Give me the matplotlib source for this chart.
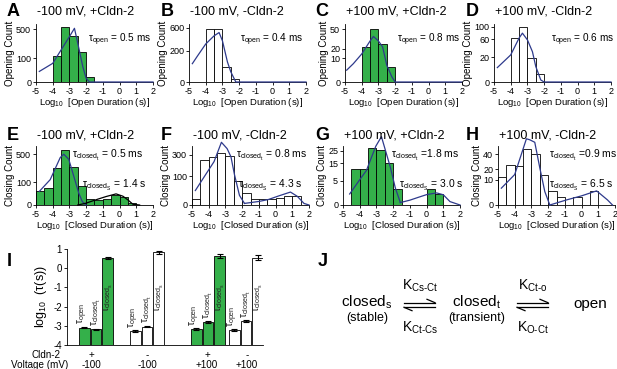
import matplotlib

matplotlib.use("Agg")
import matplotlib.pyplot as plt
import numpy as np

plt.rcParams["font.family"] = ["Liberation Sans", "DejaVu Sans"]
plt.rcParams["mathtext.fontset"] = "custom"
plt.rcParams["mathtext.rm"] = "Liberation Sans"
plt.rcParams["mathtext.it"] = "Liberation Sans:italic"
plt.rcParams["mathtext.bf"] = "Liberation Sans:bold"
plt.rcParams["axes.unicode_minus"] = False

W, H = 617, 369
GREEN = "#34b04a"
NAVY = "#2e3a8c"

# ------------------------------------------------------------------ data

# dwell-time histograms: bin starts (log10 s), 0.5 wide bins, counts
A_start, A_counts = -4.0, [120, 530, 370, 165, 5]
B_start, B_counts = -4.0, [575, 560, 46, 1.5]
C_start, C_counts = -4.0, [22, 51, 26, 4]
D_start, D_counts = -4.0, [63, 99, 18.5, 2.1]
E_start, E_counts = -5.0, [36, 56, 270, 580, 280, 70, 8, 5, 7, 20, 12, 1]
F_start, F_counts = -5.0, [5, 242, 278, 328, 289, 66, 16, 5, 5, 5, 6, 9, 9]
G_start, G_counts = -4.5, [11, 11, 28, 26, 15.4, 2.1, 0, 0, 0, 2.1, 1.1]
H_start, H_counts = -5.0, [12.3, 24.4, 24, 48.5, 41, 14.4, 3.1, 1.1, 0, 1.1, 0, 3.1]

# fitted curves
A_fit_x = [-4.8, -4.5, -4, -3.5, -3, -2.7, -2.5, -2.2, -2, -1.8, 2]
A_fit_y = [20, 33, 62, 183, 367, 514, 267, 42, 2.4, 0, 0]
B_fit_x = [-4.8, -4.5, -4, -3.5, -3.2, -3, -2.7, -2.5, -2.2, 2]
B_fit_y = [68, 135, 292, 431, 494, 344, 81, 21, 0, 0]
C_fit_x = [-4.9, -4.5, -4, -3.5, -3.3, -3, -2.75, -2.5, -2.2, -2, 2]
C_fit_y = [2.5, 6, 14, 30, 37, 30, 22, 5, 0.5, 0, 0]
D_fit_x = [-4.8, -4.5, -4, -3.5, -3.3, -3, -2.7, -2.5, -2.2, -2, 2]
D_fit_y = [6.8, 12, 24, 63, 78, 58, 30, 7.8, 0.13, 0, 0]

E_fast_x = [-4.8, -4.15, -3.55, -3.34, -3.04, -2.74, -2.44, -2.23, -2.0]
E_fast_y = [36, 125, 437, 501, 406, 161, 27, 2.2, 0]
E_slow_x = [-2.5, -2.03, -1.32, -0.8, -0.21, 0.2, 0.5, 0.8, 1.2]
E_slow_y = [0, 0.56, 6.4, 14, 24, 15, 5, 0.1, 0]
F_fast_x = [-4.8, -4.3, -3.68, -3.24, -2.9, -2.67, -2.46, -2.16, -1.86]
F_fast_y = [25, 90, 225, 470, 380, 278, 111, 11, 0.3]
F_slow_x = [-1.86, -1.0, -0.43, 0.2, 0.89, 1.3, 1.7, 2.0]
F_slow_y = [0.3, 1.5, 3.6, 10, 20, 9, 0.3, 0]
G_fast_x = [-4.6, -4.1, -3.6, -3.04, -2.7, -2.17, -1.87, -1.57]
G_fast_y = [1.04, 4.5, 10.2, 29.5, 40, 12.3, 2.5, 0.05]
G_slow_x = [-1.57, -1, -0.5, 0, 0.6, 1.0, 1.4, 2.0]
G_slow_y = [0.05, 0.2, 0.5, 0.92, 1.25, 0.9, 0.1, 0]
H_fast_x = [-4.8, -4, -3.3, -3.1, -2.8, -2.5, -2.2, -1.9]
H_fast_y = [4.4, 14.4, 68, 66, 61, 21.5, 2.8, 0]
H_slow_x = [-1.9, -0.9, 0, 0.9, 1.55, 1.85]
H_slow_y = [0, 0.4, 1.3, 3.1, 0.4, 0]

titles = ["-100 mV, +Cldn-2", "-100 mV, -Cldn-2", "+100 mV, +Cldn-2", "+100 mV, -Cldn-2"]
tau_open = ["0.5 ms", "0.4 ms", "0.8 ms", "0.6 ms"]
tau_closed_t = ["= 0.5 ms", "= 0.8 ms", "=1.8 ms", "=0.9 ms"]
tau_closed_s = ["= 1.4 s", "= 4.3 s", "= 3.0 s", "= 6.5 s"]

# panel I: log10 time constants (s) and SEM
groups_cldn = ["+", "-", "+", "-"]
groups_volt = ["-100", "-100", "+100", "+100"]
log_tau_open = [-3.1, -3.27, -3.18, -3.22]
log_tau_closed_t = [-3.18, -3.04, -2.8, -2.75]
log_tau_closed_s = [0.53, 0.82, 0.63, 0.55]
err_open = [0.03, 0.03, 0.04, 0.03]
err_closed_t = [0.03, 0.04, 0.05, 0.04]
err_closed_s = [0.04, 0.08, 0.1, 0.12]

# ------------------------------------------------------------------ helpers

fig = plt.figure(figsize=(W / 100, H / 100), dpi=100)


def px_axes(x0, y0, x1, y1):
    return fig.add_axes([x0 / W, 1 - y1 / H, (x1 - x0) / W, (y1 - y0) / H])


def sq(v):
    return np.sqrt(np.clip(v, 0, None))


def style(ax):
    for s in ("top", "right"):
        ax.spines[s].set_visible(False)
    for s in ("left", "bottom"):
        ax.spines[s].set_linewidth(0.6)
    ax.tick_params(length=2.5, width=0.6, labelsize=6.5, pad=1)


def hist_panel(ax, start, counts, filled, curves, ytop, yticks, kind):
    edges = start + 0.5 * np.arange(len(counts))
    keep = [i for i, c in enumerate(counts) if c > 0]
    ax.bar(edges[keep], np.array(counts)[keep], width=0.5, align="edge",
           color=GREEN if filled else "white", edgecolor="black", linewidth=0.6, zorder=2)
    for cx, cy, col in curves:
        ax.plot(cx, cy, color=col, lw=0.9, zorder=3, clip_on=False)
    ax.set_yscale("function", functions=(sq, np.square))
    ax.set_xlim(-5, 2)
    ax.set_ylim(0, ytop)
    ax.set_xticks(range(-5, 3))
    ax.set_yticks(yticks)
    ax.set_yticklabels([str(t) for t in yticks])
    style(ax)
    ax.set_xlabel(r"Log$_{10}$  [" + kind + " Duration (s)]", fontsize=6.8, labelpad=0)
    ax.set_ylabel("Opening Count" if kind == "Open" else "Closing Count", fontsize=7, labelpad=1)


# ------------------------------------------------------------------ panels A-H

row1_x = [36, 189, 345, 494]
row2_x = [36, 192, 343, 498]
top_data = [
    (A_start, A_counts, True, [(A_fit_x, A_fit_y, NAVY)], 600, [0, 100, 500]),
    (B_start, B_counts, False, [(B_fit_x, B_fit_y, NAVY)], 680, [0, 200, 600]),
    (C_start, C_counts, True, [(C_fit_x, C_fit_y, NAVY)], 60, [0, 10, 20, 50]),
    (D_start, D_counts, False, [(D_fit_x, D_fit_y, NAVY)], 110, [0, 20, 60, 100]),
]
bot_data = [
    (E_start, E_counts, True, [(E_fast_x, E_fast_y, NAVY), (E_slow_x, E_slow_y, "black")], 676, [0, 100, 500]),
    (F_start, F_counts, False, [(F_fast_x, F_fast_y, NAVY), (F_slow_x, F_slow_y, NAVY)], 416, [0, 100, 300]),
    (G_start, G_counts, True, [(G_fast_x, G_fast_y, NAVY), (G_slow_x, G_slow_y, NAVY)], 29.8, [0, 5, 15, 25]),
    (H_start, H_counts, False, [(H_fast_x, H_fast_y, NAVY), (H_slow_x, H_slow_y, NAVY)], 54, [0, 10, 20, 40]),
]

for x0, d in zip(row1_x, top_data):
    ax = px_axes(x0, 24, x0 + 117, 82)
    hist_panel(ax, *d, kind="Open")
for x0, d in zip(row2_x, bot_data):
    ax = px_axes(x0, 146, x0 + 117, 205)
    hist_panel(ax, *d, kind="Closed")

# ------------------------------------------------------------------ panel I

axI = px_axes(67, 249, 263, 345)
centers = [96, 147, 208, 246]
step = 11.6
bw = 10.5
for g, c in enumerate(centers):
    fill = GREEN if groups_cldn[g] == "+" else "white"
    vals = [log_tau_open[g], log_tau_closed_t[g], log_tau_closed_s[g]]
    errs = [err_open[g], err_closed_t[g], err_closed_s[g]]
    xs = [c - step, c, c + step]
    axI.bar(xs, np.array(vals) + 4, bottom=-4, width=bw, color=fill,
            edgecolor="black", linewidth=0.6, zorder=2)
    axI.errorbar(xs, vals, yerr=errs, fmt="none", ecolor="black", elinewidth=0.8,
                 capsize=2.2, capthick=0.8, zorder=3)
    labels = [r"$\mathrm{τ_{open}}$", r"$\mathrm{τ_{closed_t}}$", r"$\mathrm{τ_{closed_s}}$"]
    bases = [vals[0] + 0.17, vals[1] + 0.17, -2.3]
    nudges = [-1.2, 0.3, 1.0]
    for x, lab, b, dx in zip(xs, labels, bases, nudges):
        axI.text(x + dx, b, lab, rotation=90, ha="center", va="bottom", fontsize=7.3,
                 color="#222222", zorder=4)
axI.set_xlim(67, 263)
axI.set_ylim(-4, 1)
axI.set_yticks(range(-4, 2))
axI.set_xticks([])
style(axI)
axI.tick_params(labelsize=7)
axI.set_ylabel(r"log$_{10}$  (τ(s))", fontsize=9, labelpad=3)

# ------------------------------------------------------------------ overlay text

ov = fig.add_axes([0, 0, 1, 1])
ov.set_xlim(0, W)
ov.set_ylim(H, 0)
ov.axis("off")

for lab, x, y in [("A", 7, 12), ("B", 161, 12), ("C", 315, 12), ("D", 466, 12),
                  ("E", 7, 136), ("F", 161, 136), ("G", 315, 136), ("H", 466, 136),
                  ("I", 7, 262), ("J", 318, 262)]:
    ov.text(x, y, lab, fontsize=13, fontweight="bold", ha="left", va="center")

for x0, t in zip(row1_x, titles):
    ov.text(x0 + 1, 12, t, fontsize=9, ha="left", va="center")
for x0, t in zip(row2_x, titles):
    ov.text(x0 + 1, 135, t, fontsize=9, ha="left", va="center")

for x, t in zip([88, 240, 397, 551], tau_open):
    ov.text(x, 40, r"$\mathrm{τ_{open}}$ = " + t, fontsize=7.2, ha="left", va="center")
for xt, xs_, t1, t2 in zip([72, 236, 391, 549], [82, 238, 399, 549], tau_closed_t, tau_closed_s):
    ov.text(xt, 155, r"$\mathrm{τ_{closed_t}}$ " + t1, fontsize=7.4, ha="left", va="center")
    ov.text(xs_, 185, r"$\mathrm{τ_{closed_S}}$ " + t2, fontsize=7.4, ha="left", va="center")

# panel I condition rows
ov.text(61, 355, "Cldn-2", fontsize=7.1, ha="right", va="center")
ov.text(68, 365, "Voltage (mV)", fontsize=7.1, ha="right", va="center")
for c, s, v in zip([91, 147, 207, 247], groups_cldn, groups_volt):
    ov.text(c, 355, s, fontsize=7.1, ha="center", va="center")
    ov.text(c, 365, v, fontsize=7.1, ha="center", va="center")

# panel J scheme
ov.text(367, 302, r"closed$_\mathrm{s}$", fontsize=11, ha="center", va="center")
ov.text(367, 318, "(stable)", fontsize=9, ha="center", va="center")
ov.text(477, 302, r"closed$_\mathrm{t}$", fontsize=11, ha="center", va="center")
ov.text(477, 318, "(transient)", fontsize=9, ha="center", va="center")
ov.text(590, 304, "open", fontsize=11, ha="center", va="center")
ov.text(420, 286, r"K$_\mathrm{Cs\text{-}Ct}$", fontsize=10, ha="center", va="center")
ov.text(420, 328, r"K$_\mathrm{Ct\text{-}Cs}$", fontsize=10, ha="center", va="center")
ov.text(533, 286, r"K$_\mathrm{Ct\text{-}o}$", fontsize=10, ha="center", va="center")
ov.text(533, 328, r"K$_\mathrm{O\text{-}Ct}$", fontsize=10, ha="center", va="center")

for xa, xb in [(404, 435), (517, 548)]:
    ov.plot([xa, xb], [302.7, 302.7], color="black", lw=0.9)
    ov.plot([xb - 8, xb], [299.3, 302.7], color="black", lw=0.9)
    ov.plot([xa, xb], [307.3, 307.3], color="black", lw=0.9)
    ov.plot([xa, xa + 8], [307.3, 310.7], color="black", lw=0.9)

fig.savefig("out.png", dpi=100)
